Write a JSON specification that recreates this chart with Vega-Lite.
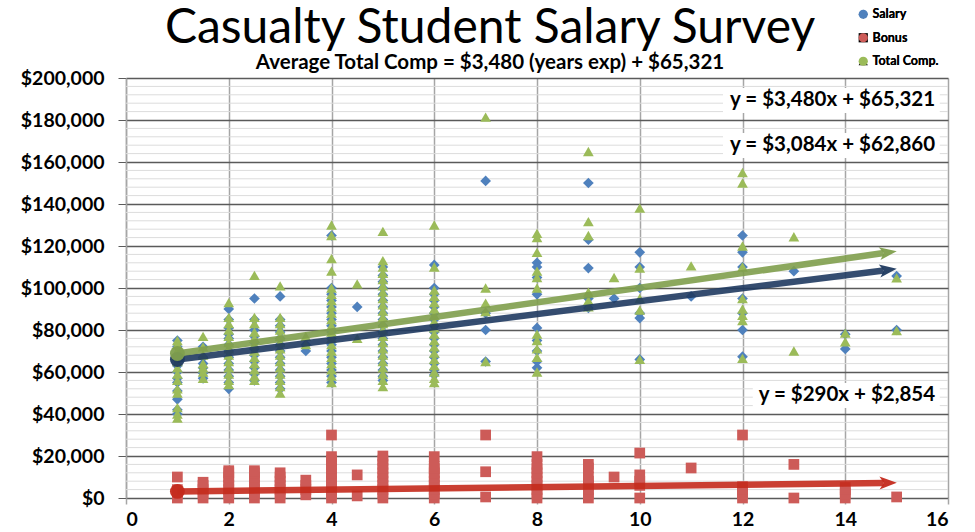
{
  "$schema": "https://vega.github.io/schema/vega-lite/v6.json",
  "width": 822,
  "height": 420,
  "autosize": {"type": "none"},
  "padding": {"left": 126, "top": 78, "right": 27, "bottom": 34},
  "background": "white",
  "config": {
    "view": {"stroke": null},
    "font": "Lato",
    "axis": {"labelFont": "Lato", "labelFontWeight": "bold", "labelFontSize": 19.5, "labelColor": "#000000", "title": null}
  },
  "title": {
    "text": "Casualty Student Salary Survey",
    "subtitle": "Average Total Comp = $3,480 (years exp) + $65,321",
    "anchor": "middle",
    "frame": "group",
    "dx": -47,
    "offset": -65,
    "font": "Lato",
    "fontSize": 48,
    "fontWeight": "normal",
    "color": "#000000",
    "subtitleFont": "Lato",
    "subtitleFontSize": 20.5,
    "subtitleFontWeight": "bold",
    "subtitleColor": "#000000",
    "subtitlePadding": 0
  },
  "datasets": {
    "minor": [
      {"v": 4000}, {"v": 8000}, {"v": 12000}, {"v": 16000}, {"v": 24000}, {"v": 28000}, {"v": 32000}, {"v": 36000},
      {"v": 44000}, {"v": 48000}, {"v": 52000}, {"v": 56000}, {"v": 64000}, {"v": 68000}, {"v": 72000}, {"v": 76000},
      {"v": 84000}, {"v": 88000}, {"v": 92000}, {"v": 96000}, {"v": 104000}, {"v": 108000}, {"v": 112000}, {"v": 116000},
      {"v": 124000}, {"v": 128000}, {"v": 132000}, {"v": 136000}, {"v": 144000}, {"v": 148000}, {"v": 152000}, {"v": 156000},
      {"v": 164000}, {"v": 168000}, {"v": 172000}, {"v": 176000}, {"v": 184000}, {"v": 188000}, {"v": 192000}, {"v": 196000}
    ],
    "boxes": [
      {"x1": 11.62, "x2": 15.84, "y1": 183333, "y2": 195238},
      {"x1": 11.62, "x2": 15.84, "y1": 161905, "y2": 173810},
      {"x1": 12.2, "x2": 15.84, "y1": 42857, "y2": 54762}
    ],
    "labels": [
      {"x": 15.75, "y": 189286, "text": "y = $3,480x + $65,321"},
      {"x": 15.75, "y": 168095, "text": "y = $3,084x + $62,860"},
      {"x": 15.75, "y": 49048, "text": "y = $290x + $2,854"}
    ],
    "trend": [
      {"series": "Bonus", "years": 1, "amount": 3144},
      {"series": "Bonus", "years": 14.75, "amount": 7132},
      {"series": "Salary", "years": 1, "amount": 65944},
      {"series": "Salary", "years": 14.75, "amount": 108349},
      {"series": "Total Comp.", "years": 1, "amount": 68801},
      {"series": "Total Comp.", "years": 14.75, "amount": 116651}
    ],
    "starts": [
      {"series": "Bonus", "years": 1, "amount": 3144},
      {"series": "Salary", "years": 1, "amount": 65944},
      {"series": "Total Comp.", "years": 1, "amount": 68801}
    ],
    "heads": [
      {"series": "Bonus", "years": 14.835, "amount": 7156, "angle": 359.3},
      {"series": "Salary", "years": 14.835, "amount": 108611, "angle": 352.8},
      {"series": "Total Comp.", "years": 14.835, "amount": 116947, "angle": 351.9}
    ],
    "points": [
      {"series": "Salary", "years": 1, "amount": 75000}, {"series": "Salary", "years": 1, "amount": 72000}, {"series": "Salary", "years": 1, "amount": 68000}, {"series": "Salary", "years": 1, "amount": 66000}, {"series": "Salary", "years": 1, "amount": 63000}, {"series": "Salary", "years": 1, "amount": 60000}, {"series": "Salary", "years": 1, "amount": 57000}, {"series": "Salary", "years": 1, "amount": 55000}, {"series": "Salary", "years": 1, "amount": 51000}, {"series": "Salary", "years": 1, "amount": 47000}, {"series": "Salary", "years": 1, "amount": 42000}, {"series": "Salary", "years": 1, "amount": 40000},
      {"series": "Salary", "years": 1.5, "amount": 72000}, {"series": "Salary", "years": 1.5, "amount": 67000}, {"series": "Salary", "years": 1.5, "amount": 64000}, {"series": "Salary", "years": 1.5, "amount": 62000}, {"series": "Salary", "years": 1.5, "amount": 59500}, {"series": "Salary", "years": 1.5, "amount": 57000},
      {"series": "Salary", "years": 2, "amount": 90000}, {"series": "Salary", "years": 2, "amount": 85000}, {"series": "Salary", "years": 2, "amount": 81000}, {"series": "Salary", "years": 2, "amount": 78000}, {"series": "Salary", "years": 2, "amount": 76000}, {"series": "Salary", "years": 2, "amount": 73000}, {"series": "Salary", "years": 2, "amount": 70000}, {"series": "Salary", "years": 2, "amount": 67000}, {"series": "Salary", "years": 2, "amount": 64000}, {"series": "Salary", "years": 2, "amount": 61000}, {"series": "Salary", "years": 2, "amount": 58000}, {"series": "Salary", "years": 2, "amount": 55000}, {"series": "Salary", "years": 2, "amount": 52000},
      {"series": "Salary", "years": 2.5, "amount": 95000}, {"series": "Salary", "years": 2.5, "amount": 85000}, {"series": "Salary", "years": 2.5, "amount": 80000}, {"series": "Salary", "years": 2.5, "amount": 77000}, {"series": "Salary", "years": 2.5, "amount": 74000}, {"series": "Salary", "years": 2.5, "amount": 71000}, {"series": "Salary", "years": 2.5, "amount": 68000}, {"series": "Salary", "years": 2.5, "amount": 65000}, {"series": "Salary", "years": 2.5, "amount": 62000}, {"series": "Salary", "years": 2.5, "amount": 59000}, {"series": "Salary", "years": 2.5, "amount": 56000},
      {"series": "Salary", "years": 3, "amount": 96000}, {"series": "Salary", "years": 3, "amount": 85000}, {"series": "Salary", "years": 3, "amount": 82000}, {"series": "Salary", "years": 3, "amount": 79000}, {"series": "Salary", "years": 3, "amount": 76000}, {"series": "Salary", "years": 3, "amount": 73000}, {"series": "Salary", "years": 3, "amount": 70000}, {"series": "Salary", "years": 3, "amount": 67000}, {"series": "Salary", "years": 3, "amount": 64000}, {"series": "Salary", "years": 3, "amount": 61000}, {"series": "Salary", "years": 3, "amount": 58000}, {"series": "Salary", "years": 3, "amount": 55000}, {"series": "Salary", "years": 3, "amount": 52000},
      {"series": "Salary", "years": 3.5, "amount": 70000}, {"series": "Salary", "years": 3.5, "amount": 73000},
      {"series": "Salary", "years": 4, "amount": 125000}, {"series": "Salary", "years": 4, "amount": 100000}, {"series": "Salary", "years": 4, "amount": 97000}, {"series": "Salary", "years": 4, "amount": 94000}, {"series": "Salary", "years": 4, "amount": 91000}, {"series": "Salary", "years": 4, "amount": 88000}, {"series": "Salary", "years": 4, "amount": 85000}, {"series": "Salary", "years": 4, "amount": 82000}, {"series": "Salary", "years": 4, "amount": 79000}, {"series": "Salary", "years": 4, "amount": 76000}, {"series": "Salary", "years": 4, "amount": 73000}, {"series": "Salary", "years": 4, "amount": 70000}, {"series": "Salary", "years": 4, "amount": 67000}, {"series": "Salary", "years": 4, "amount": 64000}, {"series": "Salary", "years": 4, "amount": 61000}, {"series": "Salary", "years": 4, "amount": 58000}, {"series": "Salary", "years": 4, "amount": 55000},
      {"series": "Salary", "years": 4.5, "amount": 91000},
      {"series": "Salary", "years": 5, "amount": 110000}, {"series": "Salary", "years": 5, "amount": 106000}, {"series": "Salary", "years": 5, "amount": 103000}, {"series": "Salary", "years": 5, "amount": 100000}, {"series": "Salary", "years": 5, "amount": 97000}, {"series": "Salary", "years": 5, "amount": 94000}, {"series": "Salary", "years": 5, "amount": 91000}, {"series": "Salary", "years": 5, "amount": 88000}, {"series": "Salary", "years": 5, "amount": 85000}, {"series": "Salary", "years": 5, "amount": 82000}, {"series": "Salary", "years": 5, "amount": 79000}, {"series": "Salary", "years": 5, "amount": 76000}, {"series": "Salary", "years": 5, "amount": 73000}, {"series": "Salary", "years": 5, "amount": 70000}, {"series": "Salary", "years": 5, "amount": 67000}, {"series": "Salary", "years": 5, "amount": 64000}, {"series": "Salary", "years": 5, "amount": 61000}, {"series": "Salary", "years": 5, "amount": 58000}, {"series": "Salary", "years": 5, "amount": 56000},
      {"series": "Salary", "years": 6, "amount": 111000}, {"series": "Salary", "years": 6, "amount": 100000}, {"series": "Salary", "years": 6, "amount": 97000}, {"series": "Salary", "years": 6, "amount": 94000}, {"series": "Salary", "years": 6, "amount": 91000}, {"series": "Salary", "years": 6, "amount": 88000}, {"series": "Salary", "years": 6, "amount": 85000}, {"series": "Salary", "years": 6, "amount": 82000}, {"series": "Salary", "years": 6, "amount": 79000}, {"series": "Salary", "years": 6, "amount": 76000}, {"series": "Salary", "years": 6, "amount": 73000}, {"series": "Salary", "years": 6, "amount": 70000}, {"series": "Salary", "years": 6, "amount": 67000}, {"series": "Salary", "years": 6, "amount": 64000}, {"series": "Salary", "years": 6, "amount": 61000}, {"series": "Salary", "years": 6, "amount": 58600},
      {"series": "Salary", "years": 7, "amount": 151000}, {"series": "Salary", "years": 7, "amount": 88000}, {"series": "Salary", "years": 7, "amount": 80000}, {"series": "Salary", "years": 7, "amount": 65000},
      {"series": "Salary", "years": 8, "amount": 112000}, {"series": "Salary", "years": 8, "amount": 110000}, {"series": "Salary", "years": 8, "amount": 105000}, {"series": "Salary", "years": 8, "amount": 97000}, {"series": "Salary", "years": 8, "amount": 81000}, {"series": "Salary", "years": 8, "amount": 75000}, {"series": "Salary", "years": 8, "amount": 70000}, {"series": "Salary", "years": 8, "amount": 65000}, {"series": "Salary", "years": 8, "amount": 62000},
      {"series": "Salary", "years": 9, "amount": 150000}, {"series": "Salary", "years": 9, "amount": 123000}, {"series": "Salary", "years": 9, "amount": 109500}, {"series": "Salary", "years": 9, "amount": 95000}, {"series": "Salary", "years": 9, "amount": 90500},
      {"series": "Salary", "years": 9.5, "amount": 95000},
      {"series": "Salary", "years": 10, "amount": 117000}, {"series": "Salary", "years": 10, "amount": 110000}, {"series": "Salary", "years": 10, "amount": 100000}, {"series": "Salary", "years": 10, "amount": 88000}, {"series": "Salary", "years": 10, "amount": 85700}, {"series": "Salary", "years": 10, "amount": 66000},
      {"series": "Salary", "years": 11, "amount": 96000},
      {"series": "Salary", "years": 12, "amount": 125000}, {"series": "Salary", "years": 12, "amount": 117000}, {"series": "Salary", "years": 12, "amount": 110000}, {"series": "Salary", "years": 12, "amount": 95000}, {"series": "Salary", "years": 12, "amount": 88000}, {"series": "Salary", "years": 12, "amount": 80000}, {"series": "Salary", "years": 12, "amount": 67300},
      {"series": "Salary", "years": 13, "amount": 108000},
      {"series": "Salary", "years": 14, "amount": 78000}, {"series": "Salary", "years": 14, "amount": 71000},
      {"series": "Salary", "years": 15, "amount": 105700}, {"series": "Salary", "years": 15, "amount": 80000},

      {"series": "Bonus", "years": 1, "amount": 0}, {"series": "Bonus", "years": 1, "amount": 2000}, {"series": "Bonus", "years": 1, "amount": 4000}, {"series": "Bonus", "years": 1, "amount": 10000},
      {"series": "Bonus", "years": 1.5, "amount": 0}, {"series": "Bonus", "years": 1.5, "amount": 2000}, {"series": "Bonus", "years": 1.5, "amount": 4000}, {"series": "Bonus", "years": 1.5, "amount": 6000}, {"series": "Bonus", "years": 1.5, "amount": 7500},
      {"series": "Bonus", "years": 2, "amount": 0}, {"series": "Bonus", "years": 2, "amount": 2000}, {"series": "Bonus", "years": 2, "amount": 4000}, {"series": "Bonus", "years": 2, "amount": 6000}, {"series": "Bonus", "years": 2, "amount": 8000}, {"series": "Bonus", "years": 2, "amount": 10000}, {"series": "Bonus", "years": 2, "amount": 12000}, {"series": "Bonus", "years": 2, "amount": 13000},
      {"series": "Bonus", "years": 2.5, "amount": 0}, {"series": "Bonus", "years": 2.5, "amount": 2000}, {"series": "Bonus", "years": 2.5, "amount": 4000}, {"series": "Bonus", "years": 2.5, "amount": 6000}, {"series": "Bonus", "years": 2.5, "amount": 8000}, {"series": "Bonus", "years": 2.5, "amount": 10000}, {"series": "Bonus", "years": 2.5, "amount": 12000}, {"series": "Bonus", "years": 2.5, "amount": 13000},
      {"series": "Bonus", "years": 3, "amount": 0}, {"series": "Bonus", "years": 3, "amount": 2000}, {"series": "Bonus", "years": 3, "amount": 4000}, {"series": "Bonus", "years": 3, "amount": 6000}, {"series": "Bonus", "years": 3, "amount": 8000}, {"series": "Bonus", "years": 3, "amount": 10000}, {"series": "Bonus", "years": 3, "amount": 12000},
      {"series": "Bonus", "years": 3.5, "amount": 1500}, {"series": "Bonus", "years": 3.5, "amount": 4000}, {"series": "Bonus", "years": 3.5, "amount": 6000}, {"series": "Bonus", "years": 3.5, "amount": 8500},
      {"series": "Bonus", "years": 4, "amount": 0}, {"series": "Bonus", "years": 4, "amount": 2000}, {"series": "Bonus", "years": 4, "amount": 4000}, {"series": "Bonus", "years": 4, "amount": 6000}, {"series": "Bonus", "years": 4, "amount": 8000}, {"series": "Bonus", "years": 4, "amount": 10000}, {"series": "Bonus", "years": 4, "amount": 12000}, {"series": "Bonus", "years": 4, "amount": 14000}, {"series": "Bonus", "years": 4, "amount": 16000}, {"series": "Bonus", "years": 4, "amount": 18000}, {"series": "Bonus", "years": 4, "amount": 19700}, {"series": "Bonus", "years": 4, "amount": 30000},
      {"series": "Bonus", "years": 4.5, "amount": 1000}, {"series": "Bonus", "years": 4.5, "amount": 11000},
      {"series": "Bonus", "years": 5, "amount": 0}, {"series": "Bonus", "years": 5, "amount": 2000}, {"series": "Bonus", "years": 5, "amount": 4000}, {"series": "Bonus", "years": 5, "amount": 6000}, {"series": "Bonus", "years": 5, "amount": 8000}, {"series": "Bonus", "years": 5, "amount": 10000}, {"series": "Bonus", "years": 5, "amount": 12000}, {"series": "Bonus", "years": 5, "amount": 14000}, {"series": "Bonus", "years": 5, "amount": 16000}, {"series": "Bonus", "years": 5, "amount": 18000}, {"series": "Bonus", "years": 5, "amount": 20000},
      {"series": "Bonus", "years": 6, "amount": 0}, {"series": "Bonus", "years": 6, "amount": 2000}, {"series": "Bonus", "years": 6, "amount": 4000}, {"series": "Bonus", "years": 6, "amount": 6000}, {"series": "Bonus", "years": 6, "amount": 8000}, {"series": "Bonus", "years": 6, "amount": 10000}, {"series": "Bonus", "years": 6, "amount": 12000}, {"series": "Bonus", "years": 6, "amount": 14000}, {"series": "Bonus", "years": 6, "amount": 15000}, {"series": "Bonus", "years": 6, "amount": 19700},
      {"series": "Bonus", "years": 7, "amount": 500}, {"series": "Bonus", "years": 7, "amount": 12500}, {"series": "Bonus", "years": 7, "amount": 30000},
      {"series": "Bonus", "years": 8, "amount": 0}, {"series": "Bonus", "years": 8, "amount": 2000}, {"series": "Bonus", "years": 8, "amount": 4000}, {"series": "Bonus", "years": 8, "amount": 6000}, {"series": "Bonus", "years": 8, "amount": 8000}, {"series": "Bonus", "years": 8, "amount": 10000}, {"series": "Bonus", "years": 8, "amount": 12000}, {"series": "Bonus", "years": 8, "amount": 14000}, {"series": "Bonus", "years": 8, "amount": 16000}, {"series": "Bonus", "years": 8, "amount": 19700},
      {"series": "Bonus", "years": 9, "amount": 0}, {"series": "Bonus", "years": 9, "amount": 2000}, {"series": "Bonus", "years": 9, "amount": 4000}, {"series": "Bonus", "years": 9, "amount": 6000}, {"series": "Bonus", "years": 9, "amount": 8000}, {"series": "Bonus", "years": 9, "amount": 10000}, {"series": "Bonus", "years": 9, "amount": 14300}, {"series": "Bonus", "years": 9, "amount": 16000},
      {"series": "Bonus", "years": 9.5, "amount": 10000},
      {"series": "Bonus", "years": 10, "amount": 0}, {"series": "Bonus", "years": 10, "amount": 6000}, {"series": "Bonus", "years": 10, "amount": 8000}, {"series": "Bonus", "years": 10, "amount": 11000}, {"series": "Bonus", "years": 10, "amount": 21400},
      {"series": "Bonus", "years": 11, "amount": 14300},
      {"series": "Bonus", "years": 12, "amount": 0}, {"series": "Bonus", "years": 12, "amount": 2000}, {"series": "Bonus", "years": 12, "amount": 4000}, {"series": "Bonus", "years": 12, "amount": 5400}, {"series": "Bonus", "years": 12, "amount": 30000},
      {"series": "Bonus", "years": 13, "amount": 0}, {"series": "Bonus", "years": 13, "amount": 16000},
      {"series": "Bonus", "years": 14, "amount": 0}, {"series": "Bonus", "years": 14, "amount": 2000}, {"series": "Bonus", "years": 14, "amount": 4000}, {"series": "Bonus", "years": 14, "amount": 5000},
      {"series": "Bonus", "years": 15, "amount": 500},

      {"series": "Total Comp.", "years": 1, "amount": 75000}, {"series": "Total Comp.", "years": 1, "amount": 73000}, {"series": "Total Comp.", "years": 1, "amount": 70000}, {"series": "Total Comp.", "years": 1, "amount": 68000}, {"series": "Total Comp.", "years": 1, "amount": 65000}, {"series": "Total Comp.", "years": 1, "amount": 62000}, {"series": "Total Comp.", "years": 1, "amount": 59000}, {"series": "Total Comp.", "years": 1, "amount": 56000}, {"series": "Total Comp.", "years": 1, "amount": 52000}, {"series": "Total Comp.", "years": 1, "amount": 50000}, {"series": "Total Comp.", "years": 1, "amount": 43000}, {"series": "Total Comp.", "years": 1, "amount": 40000}, {"series": "Total Comp.", "years": 1, "amount": 38000},
      {"series": "Total Comp.", "years": 1.5, "amount": 77000}, {"series": "Total Comp.", "years": 1.5, "amount": 72000}, {"series": "Total Comp.", "years": 1.5, "amount": 68000}, {"series": "Total Comp.", "years": 1.5, "amount": 64000}, {"series": "Total Comp.", "years": 1.5, "amount": 62000}, {"series": "Total Comp.", "years": 1.5, "amount": 60000}, {"series": "Total Comp.", "years": 1.5, "amount": 57000},
      {"series": "Total Comp.", "years": 2, "amount": 93000}, {"series": "Total Comp.", "years": 2, "amount": 86000}, {"series": "Total Comp.", "years": 2, "amount": 83000}, {"series": "Total Comp.", "years": 2, "amount": 80000}, {"series": "Total Comp.", "years": 2, "amount": 77000}, {"series": "Total Comp.", "years": 2, "amount": 74000}, {"series": "Total Comp.", "years": 2, "amount": 71000}, {"series": "Total Comp.", "years": 2, "amount": 68000}, {"series": "Total Comp.", "years": 2, "amount": 65000}, {"series": "Total Comp.", "years": 2, "amount": 62000}, {"series": "Total Comp.", "years": 2, "amount": 59000}, {"series": "Total Comp.", "years": 2, "amount": 56000}, {"series": "Total Comp.", "years": 2, "amount": 54000},
      {"series": "Total Comp.", "years": 2.5, "amount": 106000}, {"series": "Total Comp.", "years": 2.5, "amount": 86000}, {"series": "Total Comp.", "years": 2.5, "amount": 83000}, {"series": "Total Comp.", "years": 2.5, "amount": 79000}, {"series": "Total Comp.", "years": 2.5, "amount": 76000}, {"series": "Total Comp.", "years": 2.5, "amount": 73000}, {"series": "Total Comp.", "years": 2.5, "amount": 70000}, {"series": "Total Comp.", "years": 2.5, "amount": 67000}, {"series": "Total Comp.", "years": 2.5, "amount": 64000}, {"series": "Total Comp.", "years": 2.5, "amount": 61000}, {"series": "Total Comp.", "years": 2.5, "amount": 58000}, {"series": "Total Comp.", "years": 2.5, "amount": 56000},
      {"series": "Total Comp.", "years": 3, "amount": 101000}, {"series": "Total Comp.", "years": 3, "amount": 86000}, {"series": "Total Comp.", "years": 3, "amount": 83000}, {"series": "Total Comp.", "years": 3, "amount": 80000}, {"series": "Total Comp.", "years": 3, "amount": 77000}, {"series": "Total Comp.", "years": 3, "amount": 74000}, {"series": "Total Comp.", "years": 3, "amount": 71000}, {"series": "Total Comp.", "years": 3, "amount": 68000}, {"series": "Total Comp.", "years": 3, "amount": 65000}, {"series": "Total Comp.", "years": 3, "amount": 62000}, {"series": "Total Comp.", "years": 3, "amount": 59000}, {"series": "Total Comp.", "years": 3, "amount": 56000}, {"series": "Total Comp.", "years": 3, "amount": 53000}, {"series": "Total Comp.", "years": 3, "amount": 50000},
      {"series": "Total Comp.", "years": 3.5, "amount": 77000}, {"series": "Total Comp.", "years": 3.5, "amount": 73000},
      {"series": "Total Comp.", "years": 4, "amount": 130000}, {"series": "Total Comp.", "years": 4, "amount": 125000}, {"series": "Total Comp.", "years": 4, "amount": 114000}, {"series": "Total Comp.", "years": 4, "amount": 108000}, {"series": "Total Comp.", "years": 4, "amount": 100000}, {"series": "Total Comp.", "years": 4, "amount": 97000}, {"series": "Total Comp.", "years": 4, "amount": 94000}, {"series": "Total Comp.", "years": 4, "amount": 91000}, {"series": "Total Comp.", "years": 4, "amount": 88000}, {"series": "Total Comp.", "years": 4, "amount": 85000}, {"series": "Total Comp.", "years": 4, "amount": 82000}, {"series": "Total Comp.", "years": 4, "amount": 79000}, {"series": "Total Comp.", "years": 4, "amount": 76000}, {"series": "Total Comp.", "years": 4, "amount": 73000}, {"series": "Total Comp.", "years": 4, "amount": 70000}, {"series": "Total Comp.", "years": 4, "amount": 67000}, {"series": "Total Comp.", "years": 4, "amount": 64000}, {"series": "Total Comp.", "years": 4, "amount": 61000}, {"series": "Total Comp.", "years": 4, "amount": 58000}, {"series": "Total Comp.", "years": 4, "amount": 55000},
      {"series": "Total Comp.", "years": 4.5, "amount": 102000}, {"series": "Total Comp.", "years": 4.5, "amount": 76000},
      {"series": "Total Comp.", "years": 5, "amount": 127000}, {"series": "Total Comp.", "years": 5, "amount": 113000}, {"series": "Total Comp.", "years": 5, "amount": 110000}, {"series": "Total Comp.", "years": 5, "amount": 107000}, {"series": "Total Comp.", "years": 5, "amount": 104000}, {"series": "Total Comp.", "years": 5, "amount": 101000}, {"series": "Total Comp.", "years": 5, "amount": 98000}, {"series": "Total Comp.", "years": 5, "amount": 95000}, {"series": "Total Comp.", "years": 5, "amount": 92000}, {"series": "Total Comp.", "years": 5, "amount": 89000}, {"series": "Total Comp.", "years": 5, "amount": 86000}, {"series": "Total Comp.", "years": 5, "amount": 83000}, {"series": "Total Comp.", "years": 5, "amount": 80000}, {"series": "Total Comp.", "years": 5, "amount": 77000}, {"series": "Total Comp.", "years": 5, "amount": 74000}, {"series": "Total Comp.", "years": 5, "amount": 71000}, {"series": "Total Comp.", "years": 5, "amount": 68000}, {"series": "Total Comp.", "years": 5, "amount": 65000}, {"series": "Total Comp.", "years": 5, "amount": 62000}, {"series": "Total Comp.", "years": 5, "amount": 59000}, {"series": "Total Comp.", "years": 5, "amount": 56000}, {"series": "Total Comp.", "years": 5, "amount": 53000},
      {"series": "Total Comp.", "years": 6, "amount": 130000}, {"series": "Total Comp.", "years": 6, "amount": 110000}, {"series": "Total Comp.", "years": 6, "amount": 99000}, {"series": "Total Comp.", "years": 6, "amount": 96000}, {"series": "Total Comp.", "years": 6, "amount": 93000}, {"series": "Total Comp.", "years": 6, "amount": 90000}, {"series": "Total Comp.", "years": 6, "amount": 87000}, {"series": "Total Comp.", "years": 6, "amount": 84000}, {"series": "Total Comp.", "years": 6, "amount": 81000}, {"series": "Total Comp.", "years": 6, "amount": 78000}, {"series": "Total Comp.", "years": 6, "amount": 75000}, {"series": "Total Comp.", "years": 6, "amount": 72000}, {"series": "Total Comp.", "years": 6, "amount": 69000}, {"series": "Total Comp.", "years": 6, "amount": 66000}, {"series": "Total Comp.", "years": 6, "amount": 63000}, {"series": "Total Comp.", "years": 6, "amount": 60000}, {"series": "Total Comp.", "years": 6, "amount": 57000}, {"series": "Total Comp.", "years": 6, "amount": 55000},
      {"series": "Total Comp.", "years": 7, "amount": 181400}, {"series": "Total Comp.", "years": 7, "amount": 100000}, {"series": "Total Comp.", "years": 7, "amount": 92800}, {"series": "Total Comp.", "years": 7, "amount": 88700}, {"series": "Total Comp.", "years": 7, "amount": 65000},
      {"series": "Total Comp.", "years": 8, "amount": 126000}, {"series": "Total Comp.", "years": 8, "amount": 124000}, {"series": "Total Comp.", "years": 8, "amount": 117000}, {"series": "Total Comp.", "years": 8, "amount": 108000}, {"series": "Total Comp.", "years": 8, "amount": 105000}, {"series": "Total Comp.", "years": 8, "amount": 100000}, {"series": "Total Comp.", "years": 8, "amount": 78000}, {"series": "Total Comp.", "years": 8, "amount": 75000}, {"series": "Total Comp.", "years": 8, "amount": 71000}, {"series": "Total Comp.", "years": 8, "amount": 67000}, {"series": "Total Comp.", "years": 8, "amount": 60000},
      {"series": "Total Comp.", "years": 9, "amount": 165000}, {"series": "Total Comp.", "years": 9, "amount": 131600}, {"series": "Total Comp.", "years": 9, "amount": 125000}, {"series": "Total Comp.", "years": 9, "amount": 98000}, {"series": "Total Comp.", "years": 9, "amount": 94000}, {"series": "Total Comp.", "years": 9, "amount": 91000},
      {"series": "Total Comp.", "years": 9.5, "amount": 105000},
      {"series": "Total Comp.", "years": 10, "amount": 138000}, {"series": "Total Comp.", "years": 10, "amount": 109500}, {"series": "Total Comp.", "years": 10, "amount": 95000}, {"series": "Total Comp.", "years": 10, "amount": 89500}, {"series": "Total Comp.", "years": 10, "amount": 66000},
      {"series": "Total Comp.", "years": 11, "amount": 110500},
      {"series": "Total Comp.", "years": 12, "amount": 155000}, {"series": "Total Comp.", "years": 12, "amount": 150000}, {"series": "Total Comp.", "years": 12, "amount": 120000}, {"series": "Total Comp.", "years": 12, "amount": 110000}, {"series": "Total Comp.", "years": 12, "amount": 95000}, {"series": "Total Comp.", "years": 12, "amount": 90000}, {"series": "Total Comp.", "years": 12, "amount": 87000}, {"series": "Total Comp.", "years": 12, "amount": 84500}, {"series": "Total Comp.", "years": 12, "amount": 66500},
      {"series": "Total Comp.", "years": 13, "amount": 124400}, {"series": "Total Comp.", "years": 13, "amount": 70000},
      {"series": "Total Comp.", "years": 14, "amount": 78500}, {"series": "Total Comp.", "years": 14, "amount": 74400},
      {"series": "Total Comp.", "years": 15, "amount": 104800}, {"series": "Total Comp.", "years": 15, "amount": 79700}
    ]
  },
  "layer": [
    {
      "data": {"name": "minor"},
      "mark": {"type": "rule", "color": "#dcdcdc", "strokeWidth": 1},
      "encoding": {
        "y": {"field": "v", "type": "quantitative", "scale": {"domain": [0, 200000], "nice": false}}
      }
    },
    {
      "data": {"name": "boxes"},
      "mark": {"type": "rect", "color": "white"},
      "encoding": {
        "x": {"field": "x1", "type": "quantitative"},
        "x2": {"field": "x2"},
        "y": {"field": "y1", "type": "quantitative"},
        "y2": {"field": "y2"}
      }
    },
    {
      "data": {"name": "points"},
      "mark": {"type": "point", "filled": true, "opacity": 1, "size": 115, "strokeWidth": 0},
      "encoding": {
        "x": {
          "field": "years", "type": "quantitative",
          "scale": {"domain": [0, 16], "nice": false},
          "axis": {"values": [0, 2, 4, 6, 8, 10, 12, 14, 16], "grid": true, "gridColor": "#a6a6a6", "gridWidth": 1.5, "domain": false, "ticks": true, "tickColor": "#a6a6a6", "tickSize": 6, "tickWidth": 1.5, "labelPadding": 6}
        },
        "y": {
          "field": "amount", "type": "quantitative",
          "scale": {"domain": [0, 200000], "nice": false},
          "axis": {"values": [0, 20000, 40000, 60000, 80000, 100000, 120000, 140000, 160000, 180000, 200000], "format": "$,.0f", "grid": true, "gridColor": "#5a5a5a", "gridWidth": 1.3, "domain": true, "domainColor": "#a6a6a6", "domainWidth": 1.5, "ticks": true, "tickColor": "#5a5a5a", "tickSize": 8, "labelPadding": 14}
        },
        "color": {
          "field": "series", "type": "nominal",
          "scale": {"domain": ["Salary", "Bonus", "Total Comp."], "range": ["#4f81bd", "#cd5b58", "#9bbb59"]},
          "legend": {"title": null, "orient": "none", "legendX": 731, "legendY": -70, "labelFont": "Lato", "labelFontSize": 12.5, "labelFontWeight": "bold", "labelColor": "#000000", "symbolSize": 85, "symbolStrokeWidth": 0, "rowPadding": 10.5, "labelOffset": 3, "padding": 0}
        },
        "shape": {
          "field": "series", "type": "nominal",
          "scale": {"domain": ["Salary", "Bonus", "Total Comp."], "range": ["diamond", "square", "triangle-up"]},
          "legend": {"title": null, "orient": "none", "legendX": 731, "legendY": -70, "labelFont": "Lato", "labelFontSize": 12.5, "labelFontWeight": "bold", "labelColor": "#000000", "symbolSize": 85, "symbolStrokeWidth": 0, "rowPadding": 10.5, "labelOffset": 3, "padding": 0}
        }
      }
    },
    {
      "data": {"name": "trend"},
      "mark": {"type": "line", "strokeWidth": 6.5, "opacity": 0.9, "strokeCap": "butt"},
      "encoding": {
        "x": {"field": "years", "type": "quantitative"},
        "y": {"field": "amount", "type": "quantitative"},
        "color": {"field": "series", "type": "nominal", "scale": {"domain": ["Salary", "Bonus", "Total Comp."], "range": ["#1f3a60", "#c42a1c", "#7f9f4d"]}, "legend": null},
        "order": {"field": "years"}
      }
    },
    {
      "data": {"name": "starts"},
      "mark": {"type": "point", "shape": "circle", "filled": true, "size": 220, "opacity": 0.95, "strokeWidth": 0},
      "encoding": {
        "x": {"field": "years", "type": "quantitative"},
        "y": {"field": "amount", "type": "quantitative"},
        "color": {"field": "series", "type": "nominal", "scale": {"domain": ["Salary", "Bonus", "Total Comp."], "range": ["#1f3a60", "#c42a1c", "#7f9f4d"]}, "legend": null}
      }
    },
    {
      "data": {"name": "heads"},
      "mark": {"type": "point", "shape": "M 1 0 L -1 -0.75 L -0.5 0 L -1 0.75 Z", "filled": true, "size": 300, "opacity": 0.95, "strokeWidth": 0},
      "encoding": {
        "x": {"field": "years", "type": "quantitative"},
        "y": {"field": "amount", "type": "quantitative"},
        "angle": {"field": "angle", "type": "quantitative", "scale": null},
        "color": {"field": "series", "type": "nominal", "scale": {"domain": ["Salary", "Bonus", "Total Comp."], "range": ["#1f3a60", "#c42a1c", "#7f9f4d"]}, "legend": null}
      }
    },
    {
      "data": {"name": "labels"},
      "mark": {"type": "text", "align": "right", "baseline": "middle", "font": "Lato", "fontSize": 20.5, "fontWeight": "bold", "color": "#000000"},
      "encoding": {
        "x": {"field": "x", "type": "quantitative"},
        "y": {"field": "y", "type": "quantitative"},
        "text": {"field": "text"}
      }
    }
  ],
  "resolve": {"scale": {"color": "independent"}}
}
